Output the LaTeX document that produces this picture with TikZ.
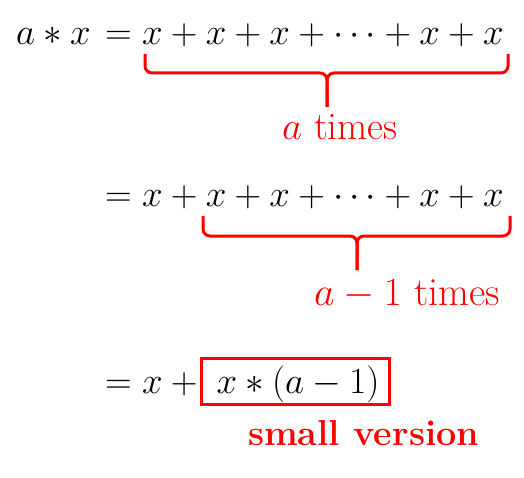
\RequirePackage{fix-cm}
\documentclass[tikz,border=0pt]{standalone}
\begin{document}
\begin{tikzpicture}[x=1pt,y=-1pt,
  mathtxt/.style={inner sep=0pt, font=\fontsize{37}{44}\selectfont},
  lbl/.style={inner sep=0pt, text=red, font=\fontsize{39}{46}\selectfont},
  bracepath/.style={draw=red, line width=3pt, rounded corners=7pt},
  boxstyle/.style={draw=red, line width=3pt, inner sep=0pt, minimum width=188pt, minimum height=46pt}]
\useasboundingbox (0,0) rectangle (524,478);
% line 1
\node[mathtxt, anchor=base east] (lhs) at (91,45) {$a*x$};
\node[mathtxt, anchor=base west] (rhs1) at (105,45) {$=x+x+x+\cdots+x+x$};
% brace 1
\coordinate (b1l) at (145,54);
\coordinate (b1r) at (508,54);
\coordinate (b1t) at (327,107);
\draw[bracepath] (b1l) |- (b1t |- 0,73) -- (b1t);
\draw[bracepath] (b1r) |- (b1t |- 0,73) -- (b1t);
\node[lbl, anchor=base west] (lab1) at (282,140) {$a$ times};
% line 2
\node[mathtxt, anchor=base west] (rhs2) at (105,207) {$=x+x+x+\cdots+x+x$};
\coordinate (b2l) at (203,216);
\coordinate (b2r) at (510,216);
\coordinate (b2t) at (357,270);
\draw[bracepath] (b2l) |- (b2t |- 0,236) -- (b2t);
\draw[bracepath] (b2r) |- (b2t |- 0,236) -- (b2t);
\node[lbl, anchor=base west, font=\fontsize{40}{46}\selectfont] (lab2) at (314,305) {$a-1$ times};
% line 3
\node[mathtxt, anchor=base west] (rhs3) at (105,393) {$=x+{}$};
\node[boxstyle] (box) at (295,381.5) {};
\node[mathtxt, anchor=base] (inner) at ([xshift=3pt]box.center |- 0,393) {$x*(a-1)$};
\node[lbl, anchor=base west, font=\fontsize{36}{42}\selectfont\bfseries] (lab3) at (248,445) {small version};
\end{tikzpicture}
\end{document}
